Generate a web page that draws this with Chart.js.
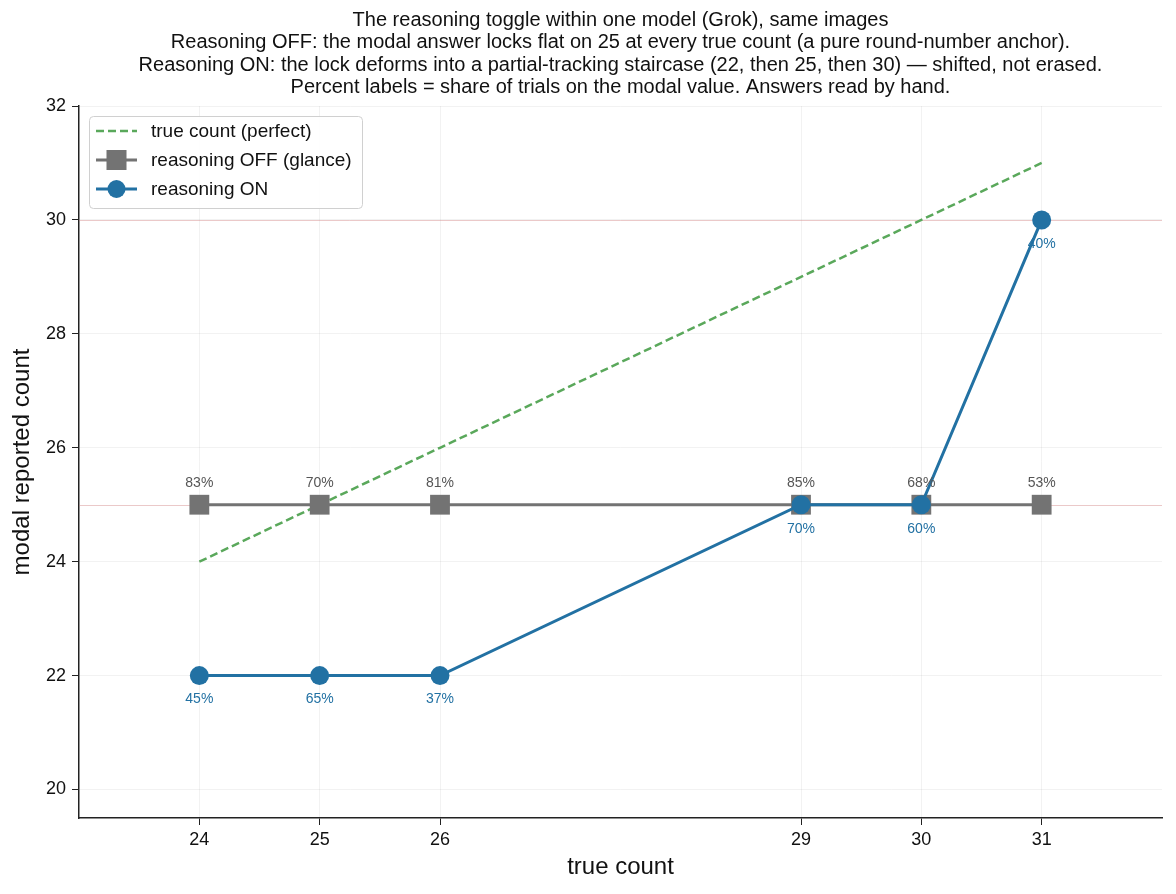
<!DOCTYPE html>
<html>
<head>
<meta charset="utf-8">
<script src="https://cdn.jsdelivr.net/npm/chart.js@4"></script>
<style>
  html, body { margin: 0; padding: 0; background: #fff; }
  #wrap { width: 1176px; height: 894px; }
</style>
</head>
<body>
<div id="wrap"><canvas id="chart" width="1176" height="894"></canvas></div>
<script>
// data
const trueCounts = [24, 25, 26, 29, 30, 31];
const offValues = [25, 25, 25, 25, 25, 25];
const onValues = [22, 22, 22, 25, 25, 30];
const offShare = [83, 70, 81, 85, 68, 53];
const onShare = [45, 65, 37, 70, 60, 40];
const yTicks = [20, 22, 24, 26, 28, 30, 32];
const refLines = [25, 30];
const titleLines = [
  'The reasoning toggle within one model (Grok), same images',
  'Reasoning OFF: the modal answer locks flat on 25 at every true count (a pure round-number anchor).',
  'Reasoning ON: the lock deforms into a partial-tracking staircase (22, then 25, then 30) \u2014 shifted, not erased.',
  'Percent labels = share of trials on the modal value. Answers read by hand.'
];

const FONT = '"Liberation Sans", Arial, Helvetica, sans-serif';
const GREEN = '#5aa85b';
const GRAY = '#737373';
const BLUE = '#2271a3';

const toPts = (xs, ys) => xs.map((x, i) => ({ x: x, y: ys[i] }));

// title, axis titles, reference lines, percent labels and legend
const extras = {
  id: 'extras',
  beforeDatasetsDraw(chart) {
    const { ctx, chartArea, scales } = chart;
    ctx.save();
    ctx.strokeStyle = 'rgba(205,120,120,0.4)';
    ctx.lineWidth = 1;
    refLines.forEach(v => {
      const y = Math.round(scales.y.getPixelForValue(v)) + 0.5;
      ctx.beginPath();
      ctx.moveTo(chartArea.left, y);
      ctx.lineTo(chartArea.right, y);
      ctx.stroke();
    });
    ctx.restore();
  },
  afterDatasetsDraw(chart) {
    const { ctx, chartArea, scales } = chart;
    ctx.save();
    ctx.font = '14px ' + FONT;
    ctx.textAlign = 'center';
    ctx.textBaseline = 'middle';
    trueCounts.forEach((x, i) => {
      const px = scales.x.getPixelForValue(x);
      ctx.fillStyle = '#555555';
      ctx.fillText(offShare[i] + '%', px, scales.y.getPixelForValue(offValues[i]) - 22);
      ctx.fillStyle = BLUE;
      ctx.fillText(onShare[i] + '%', px, scales.y.getPixelForValue(onValues[i]) + 24);
    });

    // title
    const cx = (chartArea.left + chartArea.right) / 2;
    ctx.fillStyle = '#111';
    ctx.font = '20px ' + FONT;
    titleLines.forEach((t, i) => ctx.fillText(t, cx, 20 + i * 22.5));

    // axis titles
    ctx.font = '24px ' + FONT;
    ctx.fillText('true count', cx, 867);
    ctx.save();
    ctx.translate(22, (chartArea.top + chartArea.bottom) / 2);
    ctx.rotate(-Math.PI / 2);
    ctx.fillText('modal reported count', 0, 0);
    ctx.restore();

    // legend box
    const bx = chartArea.left + 10, by = chartArea.top + 10, bw = 273, bh = 92;
    ctx.beginPath();
    ctx.roundRect(bx + 0.5, by + 0.5, bw, bh, 4);
    ctx.fillStyle = 'rgba(255,255,255,0.85)';
    ctx.fill();
    ctx.strokeStyle = '#d0d0d0';
    ctx.lineWidth = 1;
    ctx.stroke();

    const items = [
      { label: 'true count (perfect)', color: GREEN, dash: [8, 4], marker: null },
      { label: 'reasoning OFF (glance)', color: GRAY, dash: [], marker: 'rect' },
      { label: 'reasoning ON', color: BLUE, dash: [], marker: 'circle' }
    ];
    items.forEach((it, i) => {
      const y = by + 15 + i * 29;
      const x0 = bx + 7, x1 = bx + 48, xm = (x0 + x1) / 2;
      ctx.strokeStyle = it.color;
      ctx.lineWidth = it.marker ? 3 : 2.5;
      ctx.setLineDash(it.dash);
      ctx.beginPath();
      ctx.moveTo(x0, y);
      ctx.lineTo(x1, y);
      ctx.stroke();
      ctx.setLineDash([]);
      ctx.fillStyle = it.color;
      if (it.marker === 'rect') ctx.fillRect(xm - 10, y - 10, 20, 20);
      if (it.marker === 'circle') {
        ctx.beginPath();
        ctx.arc(xm, y, 9, 0, Math.PI * 2);
        ctx.fill();
      }
      ctx.fillStyle = '#111';
      ctx.textAlign = 'left';
      ctx.font = '19px ' + FONT;
      ctx.fillText(it.label, bx + 62, y + 1);
      ctx.textAlign = 'center';
    });
    ctx.restore();
  }
};

new Chart(document.getElementById('chart'), {
  type: 'line',
  data: {
    datasets: [
      {
        label: 'reasoning ON',
        data: toPts(trueCounts, onValues),
        borderColor: BLUE,
        backgroundColor: BLUE,
        borderWidth: 3,
        pointRadius: 9.5,
        pointHoverRadius: 9.5,
        pointStyle: 'circle',
        pointBorderWidth: 0,
        order: 0
      },
      {
        label: 'reasoning OFF (glance)',
        data: toPts(trueCounts, offValues),
        borderColor: GRAY,
        backgroundColor: GRAY,
        borderWidth: 3,
        pointRadius: 14,
        pointHoverRadius: 14,
        pointStyle: 'rect',
        pointBorderWidth: 0,
        order: 1
      },
      {
        label: 'true count (perfect)',
        data: toPts(trueCounts, trueCounts),
        borderColor: GREEN,
        borderWidth: 2.5,
        borderDash: [8, 4],
        pointRadius: 0,
        order: 2
      }
    ]
  },
  options: {
    responsive: false,
    animation: false,
    events: [],
    layout: { padding: { top: 106, right: 14, left: 0, bottom: 0 } },
    plugins: { legend: { display: false }, tooltip: { enabled: false }, title: { display: false } },
    scales: {
      x: {
        type: 'linear',
        min: 23,
        max: 32,
        afterBuildTicks: s => { s.ticks = trueCounts.map(v => ({ value: v })); },
        afterFit: s => { s.height = 76; },
        grid: { color: 'rgba(0,0,0,0.05)', tickColor: '#222', tickLength: 7, drawTicks: true },
        border: { display: true, color: '#222', width: 1.5 },
        ticks: { color: '#111', font: { family: FONT, size: 18 }, padding: 4, maxRotation: 0 }
      },
      y: {
        type: 'linear',
        min: 19.5,
        max: 32,
        afterBuildTicks: s => { s.ticks = yTicks.map(v => ({ value: v })); },
        afterFit: s => { s.width = 79; },
        grid: { color: 'rgba(0,0,0,0.05)', tickColor: '#222', tickLength: 7, drawTicks: true },
        border: { display: true, color: '#222', width: 1.5 },
        ticks: { color: '#111', font: { family: FONT, size: 18 }, padding: 6 }
      }
    }
  },
  plugins: [extras]
});
</script>
</body>
</html>
